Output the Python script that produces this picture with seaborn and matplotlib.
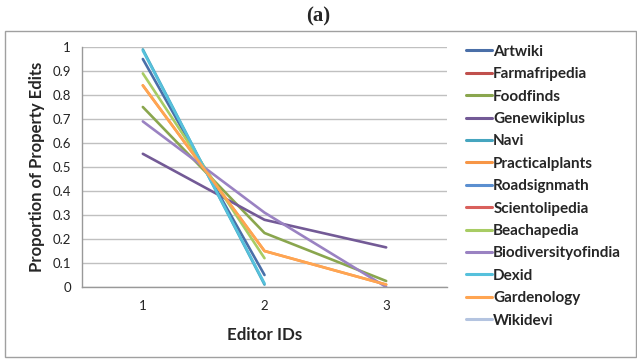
import numpy as np
import pandas as pd
import matplotlib.pyplot as plt
import seaborn as sns
from matplotlib.lines import Line2D
from matplotlib.patches import Rectangle

# ----------------------------------------------------------
# Data
# ----------------------------------------------------------
editor_ids = [1, 2, 3]

wikis = [
    "Artwiki", "Farmafripedia", "Foodfinds", "Genewikiplus", "Navi",
    "Practicalplants", "Roadsignmath", "Scientolipedia", "Beachapedia",
    "Biodiversityofindia", "Dexid", "Gardenology", "Wikidevi",
]

artwiki = [0.95, 0.05, np.nan]
farmafripedia = [1.0, np.nan, np.nan]
foodfinds = [0.75, 0.225, 0.025]
genewikiplus = [0.555, 0.28, 0.165]
navi = [0.99, 0.01, np.nan]
practicalplants = [0.84, 0.15, 0.01]
roadsignmath = [1.0, np.nan, np.nan]
scientolipedia = [1.0, np.nan, np.nan]
beachapedia = [0.89, 0.12, np.nan]
biodiversityofindia = [0.69, 0.31, 0.0]
dexid = [0.985, 0.015, np.nan]
gardenology = [0.84, 0.15, 0.01]
wikidevi = [1.0, np.nan, np.nan]

colors = [
    "#4a6fa8", "#c0504d", "#8aa64e", "#735a96", "#46a5bf", "#f79646",
    "#5b8fd0", "#d9605c", "#a8cc64", "#9a82c2", "#56c1dc", "#ffa552",
    "#b4c4e0",
]

series = [artwiki, farmafripedia, foodfinds, genewikiplus, navi,
          practicalplants, roadsignmath, scientolipedia, beachapedia,
          biodiversityofindia, dexid, gardenology, wikidevi]

rows = []
for name, vals in zip(wikis, series):
    for x, v in zip(editor_ids, vals):
        rows.append({"Editor": x, "Proportion": v, "Wiki": name})
df = pd.DataFrame(rows)

# ----------------------------------------------------------
# Plot
# ----------------------------------------------------------
sns.set_theme(style="white")
plt.rcParams["font.family"] = ["Lato", "DejaVu Sans"]

fig = plt.figure(figsize=(6.37, 3.61), dpi=100)
ax = fig.add_axes([82 / 637, 74 / 361, 365 / 637, 240 / 361])

palette = dict(zip(wikis, colors))
sns.lineplot(data=df, x="Editor", y="Proportion", hue="Wiki",
             hue_order=wikis, palette=palette, linewidth=1.9,
             legend=False, ax=ax)

ax.set_xlim(0.5, 3.5)
ax.set_ylim(0, 1)
ax.set_yticks(np.arange(0, 1.01, 0.1))
ax.set_yticklabels(["0"] + [f"{v:.1f}" for v in np.arange(0.1, 0.95, 0.1)] + ["1"])
ax.set_xticks(editor_ids)
ax.set_xticks([0.5, 1.5, 2.5, 3.5], minor=True)
ax.tick_params(axis="x", which="major", length=0, pad=9, labelsize=9.5, colors="#222222")
ax.tick_params(axis="x", which="minor", length=4, color="#999999", direction="out")
ax.tick_params(axis="y", length=4, color="#999999", direction="out", labelsize=9.5,
               colors="#222222", pad=4)
ax.tick_params(axis="y", colors="#999999", labelcolor="#222222")
ax.yaxis.grid(True, color="#c0c0c0", linewidth=1)
ax.set_axisbelow(True)

for side in ["top", "right"]:
    ax.spines[side].set_visible(False)
for side in ["left", "bottom"]:
    ax.spines[side].set_color("#999999")
    ax.spines[side].set_linewidth(1)

ax.set_xlabel("Editor IDs", fontsize=12.2, fontweight="bold", labelpad=11)
ax.set_ylabel("Proportion of Property Edits", fontsize=12, fontweight="bold",
              labelpad=5)

handles = [Line2D([0], [0], color=c, linewidth=2.2) for c in colors]
fig.legend(handles, wikis, loc="upper left", bbox_to_anchor=(452 / 637, 1 - 31 / 361),
           frameon=False, handlelength=1.7, handletextpad=0.1, labelspacing=0.55,
           prop={"weight": "bold", "size": 11})

fig.patches.append(Rectangle((5 / 637, 4 / 361), 631 / 637, 326 / 361,
                             transform=fig.transFigure, fill=False,
                             edgecolor="#a0a0a0", linewidth=1))

fig.text(0.5, 1 - 16 / 361, "(a)", ha="center", va="center", fontsize=15,
         fontweight="bold", family=["Liberation Serif", "DejaVu Serif"])

fig.savefig("out.png", dpi=100)
